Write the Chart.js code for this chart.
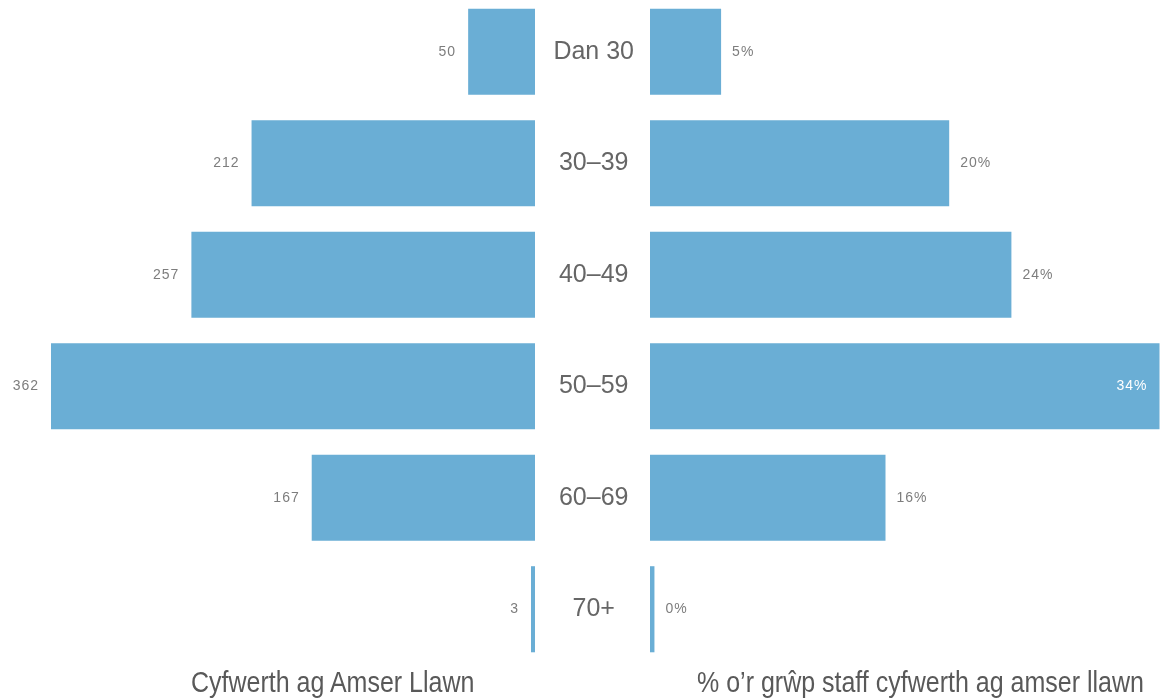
<!DOCTYPE html>
<html><head><meta charset="utf-8">
<script src="https://cdn.jsdelivr.net/npm/chart.js@4.4.0/dist/chart.umd.min.js"></script>
<style>
html,body{margin:0;padding:0;background:#fff;width:1161px;height:699px;overflow:hidden;position:relative}
#wl{position:absolute;left:0;top:-4px;width:536px;height:669px}
#wr{position:absolute;left:540px;top:-4px;width:621px;height:669px}
.t{position:absolute;top:664px;font-family:"Liberation Sans",Arial,sans-serif;font-size:29px;line-height:36px;color:#595959;white-space:nowrap;transform:scaleX(0.862);transform-origin:0 0}
</style></head><body>
<div id="wl"><canvas id="cl"></canvas></div>
<div id="wr"><canvas id="cr"></canvas></div>
<div class="t" id="tl" style="left:191px">Cyfwerth ag Amser Llawn</div>
<div class="t" id="tr" style="left:697px">% o’r grŵp staff cyfwerth ag amser llawn</div>
<script>
const categories = ['Dan 30', '30–39', '40–49', '50–59', '60–69', '70+'];
const fteCounts = [50, 212, 257, 362, 167, 3];
const ftePercent = [4.8, 20.2, 24.4, 34.4, 15.9, 0.3];

const barColor = '#6aaed5';
const labelFont = '14px "Liberation Sans", Arial, sans-serif';

const valueLabels = {
  id: 'valueLabels',
  afterDatasetsDraw(chart, args, opts) {
    const ctx = chart.ctx;
    const meta = chart.getDatasetMeta(0);
    const data = chart.data.datasets[0].data;
    ctx.save();
    ctx.font = labelFont;
    if ('letterSpacing' in ctx) ctx.letterSpacing = '1px';
    ctx.textBaseline = 'middle';
    meta.data.forEach((el, i) => {
      const txt = opts.fmt(data[i]);
      const w = ctx.measureText(txt).width;
      if (opts.side === 'left') {
        ctx.textAlign = 'right';
        ctx.fillStyle = '#7d7d7d';
        ctx.fillText(txt, el.x - 12, el.y);
      } else if (el.x + 11 + w > chart.chartArea.right) {
        ctx.textAlign = 'right';
        ctx.fillStyle = '#ffffff';
        ctx.fillText(txt, el.x - 12, el.y);
      } else {
        ctx.textAlign = 'left';
        ctx.fillStyle = '#7d7d7d';
        ctx.fillText(txt, el.x + 11, el.y);
      }
    });
    ctx.restore();
  }
};

new Chart(document.getElementById('cl'), {
  type: 'bar',
  data: { labels: categories, datasets: [{ data: fteCounts, backgroundColor: barColor, borderWidth: 0, barPercentage: 0.772, categoryPercentage: 1 }] },
  options: {
    indexAxis: 'y', responsive: true, maintainAspectRatio: false, animation: false,
    layout: { padding: { left: 51, right: 1, top: 0, bottom: 0 } },
    scales: {
      x: { display: false, reverse: true, min: 0, max: 362 },
      y: { display: false }
    },
    plugins: { legend: { display: false }, tooltip: { enabled: false }, valueLabels: { side: 'left', fmt: v => String(v) } }
  },
  plugins: [valueLabels]
});

new Chart(document.getElementById('cr'), {
  type: 'bar',
  data: { labels: categories, datasets: [{ data: ftePercent, backgroundColor: barColor, borderWidth: 0, barPercentage: 0.772, categoryPercentage: 1 }] },
  options: {
    indexAxis: 'y', responsive: true, maintainAspectRatio: false, animation: false,
    layout: { padding: 0 },
    scales: {
      x: { display: false, min: 0, max: 34.5 },
      y: {
        display: true,
        grid: { display: false, drawTicks: false },
        border: { display: false },
        afterFit(s) { s.width = 110; s.paddingTop = 0; s.paddingBottom = 0; },
        ticks: { crossAlign: 'center', padding: 16, color: '#666666', font: { family: '"Liberation Sans", Arial, sans-serif', size: 25 } }
      }
    },
    plugins: { legend: { display: false }, tooltip: { enabled: false }, valueLabels: { side: 'right', fmt: v => Math.round(v) + '%' } }
  },
  plugins: [valueLabels]
});
</script>
</body></html>
